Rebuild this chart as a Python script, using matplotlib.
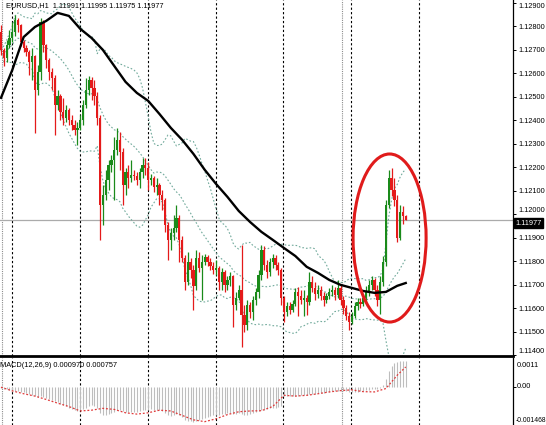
import numpy as np
import pandas as pd
import matplotlib
matplotlib.use("Agg")
import matplotlib.pyplot as plt
from matplotlib.patches import Ellipse

# ---------------- data ----------------
symbol_title = "EURUSD,H1  1.11991 1.11995 1.11975 1.11977"
macd_title = "MACD(12,26,9) 0.000970 0.000757"
bid_price = 1.11977

first_open_pts = 112777
close_pts = [
    112700, 112666, 112721, 112751, 112777, 112828, 112806, 112734, 112708, 112691,
    112649, 112674, 112530, 112606, 112819, 112721, 112657, 112606, 112581, 112466,
    112504, 112436, 112410, 112444, 112402, 112380, 112359, 112368, 112402, 112466,
    112530, 112572, 112538, 112504, 112410, 112040, 112082, 112146, 112210, 112231,
    112274, 112317, 112265, 112125, 112180, 112155, 112167, 112163, 112146, 112180,
    112210, 112197, 112146, 112155, 112116, 112125, 112082, 112061, 111954, 111891,
    111920, 111942, 111984, 111891, 111814, 111712, 111797, 111763, 111695, 111814,
    111771, 111797, 111818, 111797, 111780, 111763, 111771, 111712, 111754, 111699,
    111720, 111737, 111614, 111643, 111678, 111571, 111528, 111614, 111584, 111635,
    111669, 111741, 111848, 111784, 111754, 111797, 111814, 111784, 111763, 111643,
    111584, 111609, 111592, 111618, 111669, 111652, 111635, 111643, 111626, 111712,
    111686, 111661, 111678, 111652, 111635, 111652, 111669, 111678, 111656, 111686,
    111635, 111601, 111567, 111541, 111567, 111609, 111626, 111618, 111643, 111669,
    111699, 111720, 111678, 111635, 111712, 111797, 112040, 112155, 112104, 112061,
    111899, 112010, 111991, 111977,
]
high_pts = [
    112806, 112708, 112743, 112785, 112819, 112849, 112836, 112811, 112743, 112721,
    112700, 112708, 112679, 112636, 112836, 112828, 112726, 112666, 112623, 112594,
    112530, 112513, 112496, 112466, 112453, 112423, 112402, 112393, 112423, 112487,
    112581, 112589, 112585, 112572, 112521, 112423, 112125, 112189, 112231, 112253,
    112329, 112368, 112351, 112282, 112197, 112210, 112231, 112189, 112180, 112197,
    112240, 112240, 112223, 112172, 112163, 112155, 112133, 112104, 112069, 111967,
    111942, 111997, 112040, 111997, 111908, 111827, 111839, 111814, 111784, 111848,
    111839, 111827, 111831, 111827, 111814, 111797, 111805, 111780, 111771, 111763,
    111737, 111754, 111741, 111669, 111699, 111869, 111614, 111635, 111626, 111652,
    111686, 111763, 111869, 111865, 111805, 111814, 111831, 111827, 111797, 111771,
    111652, 111626, 111626, 111635, 111686, 111690, 111678, 111678, 111656, 111754,
    111737, 111712, 111699, 111695, 111669, 111665, 111686, 111699, 111690, 111720,
    111699, 111652, 111614, 111584, 111584, 111626, 111643, 111643, 111661, 111695,
    111720, 111737, 111729, 111699, 111737, 111822, 112061, 112189, 112197, 112155,
    112082, 112040, 112035, 111995,
]
low_pts = [
    112679, 112632, 112649, 112708, 112734, 112760, 112777, 112717, 112691, 112674,
    112594, 112572, 112346, 112508, 112572, 112691, 112623, 112572, 112530, 112338,
    112444, 112402, 112380, 112393, 112380, 112359, 112338, 112295, 112359, 112380,
    112453, 112508, 112487, 112466, 112380, 111891, 111954, 112061, 112104, 112180,
    112061, 112253, 112189, 112040, 112082, 112112, 112138, 112146, 112125, 112112,
    112155, 112167, 112104, 112125, 112095, 112082, 112040, 112018, 111925, 111805,
    111848, 111891, 111925, 111797, 111797, 111678, 111699, 111729, 111592, 111678,
    111754, 111635, 111784, 111780, 111763, 111746, 111741, 111678, 111678, 111669,
    111678, 111695, 111520, 111592, 111635, 111435, 111499, 111507, 111558, 111550,
    111614, 111643, 111720, 111763, 111729, 111737, 111771, 111763, 111741, 111614,
    111541, 111567, 111575, 111584, 111609, 111567, 111618, 111567, 111571, 111614,
    111669, 111635, 111643, 111635, 111609, 111622, 111639, 111652, 111635, 111643,
    111614, 111575, 111550, 111507, 111533, 111558, 111592, 111601, 111609, 111626,
    111652, 111678, 111652, 111609, 111575, 111695, 111780, 112027, 112078, 112035,
    111882, 111891, 111959, 111975,
]

# slow moving average (black line), sampled every 4th bar + last bar
ma_bar = list(range(0, 141, 4)) + [143]
ma_pts = [
    112496, 112615, 112755, 112798, 112824, 112858, 112845, 112790, 112751, 112700,
    112632, 112564, 112517, 112483, 112427, 112368, 112317, 112257, 112189, 112129,
    112074, 112014, 111967, 111925, 111891, 111856, 111822, 111776, 111750, 111720,
    111699, 111686, 111673, 111665, 111669, 111695, 111707,
]

# MACD main (histogram), one per bar
macd_main = [
    -0.00005, -0.00008, -0.0001, -0.00012,
    -0.00015, -0.00016, -0.00018, -0.0002, -0.00022, -0.00024, -0.00027,
    -0.0003, -0.00035, -0.00038, -0.00036, -0.00038, -0.00042, -0.00046, -0.0005,
    -0.00056, -0.0006, -0.00066, -0.0007, -0.00075, -0.0008, -0.00085, -0.0009, -0.00094,
    -0.0009, -0.00085, -0.0008, -0.00075, -0.00072, -0.00074,
    -0.0008, -0.001, -0.0011,
    -0.00108, -0.00104, -0.001, -0.00096, -0.0009, -0.00088,
    -0.00095, -0.00097, -0.00098, -0.00098, -0.00097, -0.00097, -0.00094, -0.0009, -0.00088, -0.00088,
    -0.00087, -0.00088, -0.00088, -0.0009, -0.00092,
    -0.001, -0.0011, -0.00112, -0.0011, -0.00105, -0.0011, -0.00118,
    -0.00128, -0.0013, -0.0013, -0.00135, -0.0013, -0.00128, -0.00125, -0.0012, -0.00116, -0.00112, -0.0011,
    -0.00108, -0.00108, -0.00105, -0.00105, -0.00102, -0.001, -0.00105, -0.00105, -0.001, -0.00105,
    -0.0011, -0.00108, -0.00105, -0.001, -0.00096,
    -0.00095, -0.0009, -0.00088, -0.00085, -0.00082, -0.0008, -0.0008, -0.00078, -0.00075,
    -0.00035, -0.00036, -0.00037, -0.00036, -0.00035, -0.00034, -0.00033, -0.00032, -0.0003, -0.00029, -0.00028,
    -0.00027, -0.00026, -0.00025, -0.00024, -0.00022, -0.0002, -0.00018, -0.00017, -0.00016, -0.00015,
    -0.00016, -0.00018, -0.0002, -0.00021,
    -0.0002, -0.00019, -0.00018, -0.00016, -0.00014, -0.00012, -0.0001, -0.00008, -0.00008, -0.00004, 0.00005,
    0.0003, 0.0006, 0.0008, 0.0009, 0.00095, 0.00098, 0.00097, 0.00097,
]
# MACD signal, sampled at the same bars as the moving average
macd_signal = [
    -0.00002, -0.00016, -0.00027, -0.00036, -0.00049, -0.00063, -0.00076, -0.00093,
    -0.0009, -0.00083, -0.00087, -0.001, -0.00105, -0.001, -0.0009, -0.00093,
    -0.0011, -0.00127, -0.00134, -0.00123, -0.00107, -0.00096, -0.00093, -0.00092,
    -0.00076, -0.00033, -0.00036, -0.00033, -0.00027, -0.0002, -0.00015, -0.00012,
    -0.00019, -0.0002, -0.00007, 0.00044, 0.000757,
]
macd_top, macd_bottom = 0.0011, -0.001468
macd_labels = ["0.0011", "0.00", "-0.001468"]
price_ticks = [1.114, 1.115, 1.116, 1.117, 1.118, 1.119, 1.120, 1.121,
               1.122, 1.123, 1.124, 1.125, 1.126, 1.127, 1.128, 1.129]

# ---------------- derived ----------------
closes = np.array(close_pts) / 1e5
highs = np.array(high_pts) / 1e5
lows = np.array(low_pts) / 1e5
opens = np.concatenate([[first_open_pts / 1e5], closes[:-1]])
highs = np.maximum(highs, np.maximum(opens, closes))
lows = np.minimum(lows, np.minimum(opens, closes))
n = len(closes)
bars = np.arange(n)

s = pd.Series(closes)
bb_mid = s.rolling(20, min_periods=1).mean()
bb_sd = s.rolling(20, min_periods=1).std(ddof=0)
bb_up = bb_mid + 2 * bb_sd
bb_lo = bb_mid - 2 * bb_sd

# ---------------- figure ----------------
FONT = ["Liberation Sans Narrow", "Liberation Sans", "DejaVu Sans"]
plt.rcParams["font.family"] = FONT
fig = plt.figure(figsize=(5.46, 4.25), dpi=100, facecolor="white")
W, H = 546, 425
ax = fig.add_axes([0, 1 - 356 / H, 513 / W, 356 / H])
ax2 = fig.add_axes([0, 0, 513 / W, 1 - 358 / H])

xlim = (-0.35, 180.9)
for a in (ax, ax2):
    a.set_xlim(*xlim)
    a.set_facecolor("white")
    a.set_xticks([])
    a.spines["left"].set_visible(False)
    a.spines["top"].set_visible(False)
    a.spines["right"].set_color("black")
    a.spines["right"].set_linewidth(0.9)
    a.yaxis.tick_right()
    a.tick_params(axis="y", direction="out", length=2.5, width=0.7,
                  labelsize=5.3, pad=1.5, colors="black")

ax.spines["bottom"].set_linewidth(2.0)
ax.spines["bottom"].set_color("black")
ax2.spines["bottom"].set_visible(False)

# price pane
ax.set_ylim(1.11396, 1.129128)
ax.set_yticks(price_ticks)
ax.set_yticklabels([f"{t:.5f}" for t in price_ticks])
plabs = ax.get_yticklabels()
plabs[0].set_va("bottom")
plabs[-1].set_va("top")
# the 1.12000 label sits just above the bid-price box
plabs[6].set_va("bottom")

# period separators and vertical lines
for k in range(7):
    xs = 3.8 + 24 * k
    for a in (ax, ax2):
        a.axvline(xs, color="black", lw=0.8, ls=(0, (2, 2)), zorder=1)
for xs in (0.3, 120.5):
    for a in (ax, ax2):
        a.axvline(xs, color="#8c8c8c", lw=0.8, ls=(0, (1, 1)), zorder=1)

# bollinger bands
band_kw = dict(color="#72aa9c", lw=0.8, ls=(0, (1.5, 1.8)), zorder=2)
ax.plot(bars, bb_up, **band_kw)
ax.plot(bars, bb_mid, **band_kw)
ax.plot(bars, bb_lo, **band_kw)

# bid line
ax.axhline(bid_price, color="#ababab", lw=0.9, zorder=1.5)

# candles
up = closes >= opens
cols = np.where(up, "#1a8a1a", "#e41a1a")
ax.vlines(bars, lows, highs, colors=cols, lw=0.9, zorder=3)
body_lo = np.minimum(opens, closes)
body_h = np.maximum(np.abs(closes - opens), 0.000025)
ax.bar(bars, body_h, bottom=body_lo, width=0.8, color=cols, linewidth=0, zorder=4)

# moving average
ax.plot(ma_bar, np.array(ma_pts) / 1e5, color="black", lw=1.7, zorder=5,
        solid_joinstyle="round")

# red ellipse annotation
ell = Ellipse((137.3, 1.118987), width=25.8, height=0.00716, fill=False,
              edgecolor="#e01b1b", lw=2.2, zorder=6)
ax.add_patch(ell)

# title
ax.text(6 / 513, 1 - 2 / 356, symbol_title, transform=ax.transAxes,
        fontsize=5.3, va="top", ha="left", color="black")

# bid price box
ax.text(1.004, bid_price, f"{bid_price:.5f}", transform=ax.get_yaxis_transform(),
        fontsize=5.3, va="top", ha="left", color="white", zorder=10,
        clip_on=False,
        bbox=dict(boxstyle="square,pad=0.2", fc="black", ec="black"))

# MACD pane
ax2.set_ylim(macd_bottom, macd_top)
ax2.vlines(bars, 0, macd_main, colors="#bdbdbd", lw=0.8, zorder=2)
ax2.plot(ma_bar, macd_signal, color="#e03a3a", lw=0.9, ls=(0, (1.5, 1.5)), zorder=3)
ax2.set_yticks([0.0])
ax2.set_yticklabels([])
ytr = ax2.get_yaxis_transform()
ax2.text(1.008, 1 - 4 / 67, macd_labels[0], transform=ax2.transAxes,
         fontsize=5.3, va="top", ha="left", color="black", clip_on=False)
ax2.text(1.008, 0.0, macd_labels[1], transform=ytr,
         fontsize=5.3, va="center", ha="left", color="black", clip_on=False)
ax2.text(1.006, 1 / 67, macd_labels[2], transform=ax2.transAxes,
         fontsize=4.9, va="bottom", ha="left", color="black", clip_on=False)
ax2.text(0.0, 1 - 4 / 67, macd_title, transform=ax2.transAxes,
         fontsize=5.3, va="top", ha="left", color="black")

fig.savefig("out.png", dpi=100, facecolor="white")
